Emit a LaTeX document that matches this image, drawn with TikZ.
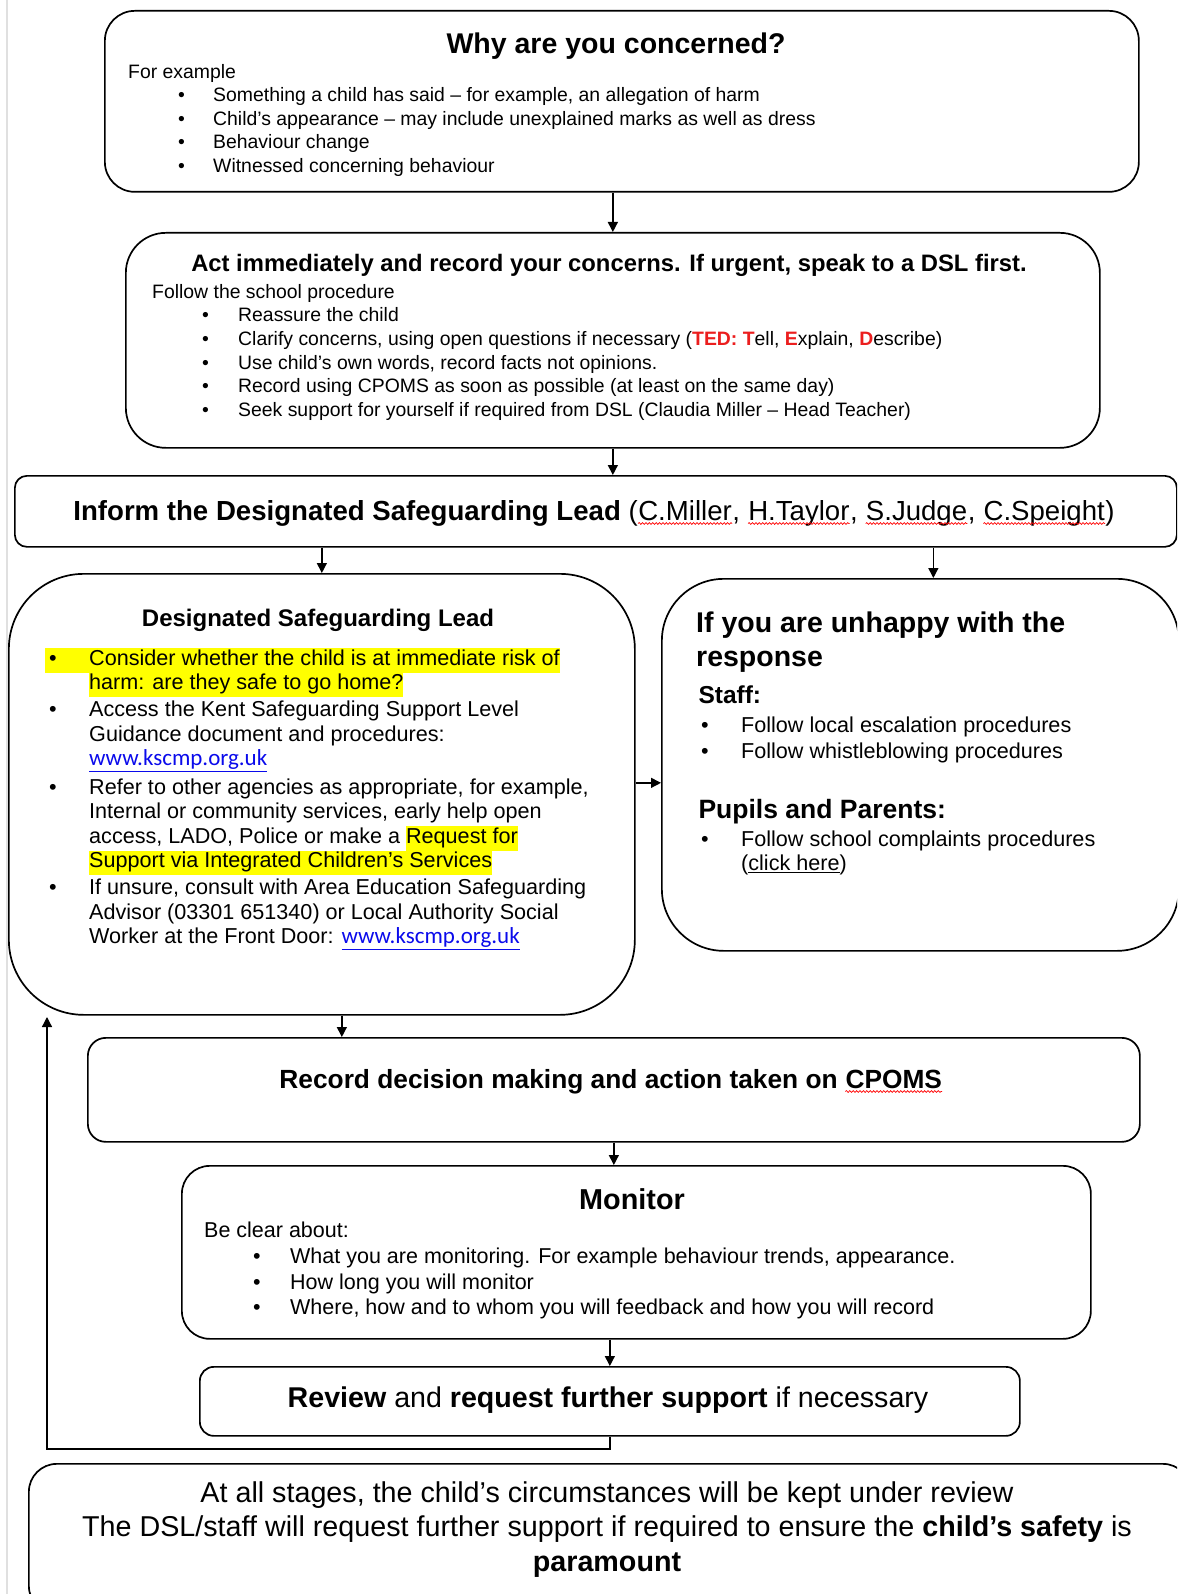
\documentclass[tikz,border=0pt]{standalone}
\usepackage{fontspec}
\setmainfont{Liberation Sans}
\newfontfamily\linkfont{Carlito}
\usetikzlibrary{arrows.meta,decorations.pathmorphing}

\definecolor{hlyellow}{RGB}{255,255,0}
\definecolor{tedred}{RGB}{235,30,30}
\definecolor{linkblue}{RGB}{10,10,235}

\newcommand{\spellerr}[1]{\tikz[baseline=(sw.base)]{\node[inner sep=0pt] (sw) {#1};
  \draw[red, line width=0.7pt, decorate, decoration={snake, amplitude=0.9pt, segment length=3.4pt}]
    ([yshift=-3.5pt]sw.base west) -- ([yshift=-3.5pt]sw.base east);}}
\newcommand{\bul}[1][35pt]{\makebox[#1][l]{\textbullet}}
\newcommand{\hl}[1]{{\setlength{\fboxsep}{0pt}\colorbox{hlyellow}{\strut#1}}}
\newcommand{\weblink}[1]{{\linkfont\color{linkblue}\underline{#1}}}
\newcommand{\ted}[1]{\textcolor{tedred}{\textbf{#1}}}

\tikzset{
  flowbox/.style={draw, line width=1.7pt, inner sep=0pt, anchor=north west},
  txt/.style={inner sep=0pt, anchor=north west, align=left},
  arr/.style={line width=1.3pt, -{Triangle[length=10pt,width=10pt]}},
  pageedge/.style={draw=black!12, line width=1.5pt},
}

\begin{document}
\begin{tikzpicture}[x=1pt,y=-1pt]
\useasboundingbox (0,0) rectangle (1177,1594);
\clip (0,0) rectangle (1177,1594);

% page edge
\draw[pageedge] (7,0) -- (7,1594);

% Why are you concerned?
\node[flowbox, rounded corners=30pt, minimum width=1034pt, minimum height=181pt] (why) at (104,10) {};
\node[anchor=base, font=\bfseries\fontsize{28.5}{33}\selectfont] (whytitle) at (616,54) {Why are you concerned?};
\node[txt, font=\fontsize{19.4}{23.5}\selectfont] (whylist) at (128,61.5) {\strut For example\\
  \hspace*{50pt}\bul Something a child has said \textendash\ for example, an allegation of harm\\
  \hspace*{50pt}\bul Child’s appearance \textendash\ may include unexplained marks as well as dress\\
  \hspace*{50pt}\bul Behaviour change\\
  \hspace*{50pt}\bul Witnessed concerning behaviour};

% Act immediately
\node[flowbox, rounded corners=40pt, minimum width=974pt, minimum height=215pt] (act) at (125,232) {};
\node[anchor=base, font=\bfseries\fontsize{23.8}{28}\selectfont] (acttitle) at (609,272) {Act immediately and record your concerns. If urgent, speak to a DSL first.};
\node[txt, font=\fontsize{19.4}{23.6}\selectfont] (actlist) at (152,281.5) {\strut Follow the school procedure\\
  \hspace*{50pt}\bul[36pt]Reassure the child\\
  \hspace*{50pt}\bul[36pt]Clarify concerns, using open questions if necessary (\ted{TED:} \ted{T}ell, \ted{E}xplain, \ted{D}escribe)\\
  \hspace*{50pt}\bul[36pt]Use child’s own words, record facts not opinions.\\
  \hspace*{50pt}\bul[36pt]Record using CPOMS as soon as possible (at least on the same day)\\
  \hspace*{50pt}\bul[36pt]Seek support for yourself if required from DSL (Claudia Miller \textendash\ Head Teacher)};

% Inform the DSL
\node[flowbox, rounded corners=12pt, minimum width=1162pt, minimum height=71pt] (inform) at (14,475) {};
\node[anchor=base, font=\fontsize{27.6}{32}\selectfont] (informtext) at (594,520) {\textbf{Inform the Designated Safeguarding Lead} (\spellerr{C.Miller}, \spellerr{H.Taylor}, \spellerr{S.Judge}, \spellerr{C.Speight})};

% Designated Safeguarding Lead
\node[flowbox, rounded corners=75pt, minimum width=626pt, minimum height=441pt] (dsl) at (8,573) {};
\node[anchor=base, font=\bfseries\fontsize{24}{29}\selectfont] (dsltitle) at (318,626) {Designated Safeguarding Lead};
\node[txt, font=\fontsize{21.6}{24.5}\selectfont] (dsllist) at (45,647.9) {\hl{\hspace*{4pt}\bul[40pt]Consider whether the child is at immediate risk of}\\
  \hspace*{44pt}\hl{harm: are they safe to go home?}\\[2.6pt]
  \hspace*{4pt}\bul[40pt]Access the Kent Safeguarding Support Level\\
  \hspace*{44pt}Guidance document and procedures:\\
  \hspace*{44pt}\weblink{\fontsize{23}{24.5}\selectfont www.kscmp.org.uk}\\[4pt]
  \hspace*{4pt}\bul[40pt]Refer to other agencies as appropriate, for example,\\
  \hspace*{44pt}Internal or community services, early help open\\
  \hspace*{44pt}access, LADO, Police or make a \hl{Request for}\\
  \hspace*{44pt}\hl{Support via Integrated Children’s Services}\\[2.6pt]
  \hspace*{4pt}\bul[40pt]If unsure, consult with Area Education Safeguarding\\
  \hspace*{44pt}Advisor (03301 651340) or Local Authority Social\\
  \hspace*{44pt}Worker at the Front Door: \weblink{\fontsize{23}{24.5}\selectfont www.kscmp.org.uk}};

% Unhappy with the response
\node[flowbox, rounded corners=62pt, minimum width=517pt, minimum height=372pt] (unhappy) at (661,578) {};
\node[txt, font=\bfseries\fontsize{28.5}{34}\selectfont] (unhappytitle) at (696,608.2) {\strut If you are unhappy with the\\response};
\node[anchor=base west, font=\bfseries\fontsize{24.5}{29}\selectfont] (staff) at (695,703) {Staff:};
\node[txt, font=\fontsize{21.6}{26}\selectfont] (stafflist) at (701,713.8) {\strut\bul[40pt]Follow local escalation procedures\\
  \bul[40pt]Follow whistleblowing procedures};
\node[anchor=base west, font=\bfseries\fontsize{26.5}{31}\selectfont] (pupils) at (695,818) {Pupils and Parents:};
\node[txt, font=\fontsize{21.6}{24}\selectfont] (pupilslist) at (701,829.2) {\strut\bul[40pt]Follow school complaints procedures\\
  \hspace*{40pt}(\underline{click here})};

% Record decision making
\node[flowbox, rounded corners=18pt, minimum width=1052pt, minimum height=104pt] (record) at (87,1037) {};
\node[anchor=base, font=\bfseries\fontsize{26.3}{31}\selectfont] (recordtext) at (611,1088) {Record decision making and action taken on \spellerr{CPOMS}};

% Monitor
\node[flowbox, rounded corners=28pt, minimum width=909pt, minimum height=173pt] (monitor) at (181,1165) {};
\node[anchor=base, font=\bfseries\fontsize{28.8}{33}\selectfont] (monitortitle) at (632,1209) {Monitor};
\node[txt, font=\fontsize{21.5}{25.9}\selectfont] (monitorlist) at (204,1218.9) {\strut Be clear about:\\
  \hspace*{49pt}\bul[37pt]What you are monitoring. For example behaviour trends, appearance.\\
  \hspace*{49pt}\bul[37pt]How long you will monitor\\
  \hspace*{49pt}\bul[37pt]Where, how and to whom you will feedback and how you will record};

% Review
\node[flowbox, rounded corners=14pt, minimum width=820pt, minimum height=69pt] (review) at (199,1366) {};
\node[anchor=base, font=\fontsize{28.6}{33}\selectfont] (reviewtext) at (608,1407) {\textbf{Review} and \textbf{request further support} if necessary};

% At all stages
\node[flowbox, rounded corners=28pt, minimum width=1162pt, minimum height=150pt] (stages) at (28,1463) {};
\node[anchor=north, align=center, inner sep=0pt, font=\fontsize{28.7}{34.5}\selectfont] (stagestext) at (607,1477.9) {\strut At all stages, the child’s circumstances will be kept under review\\
  The DSL/staff will request further support if required to ensure the \textbf{child’s safety} is\\
  \textbf{paramount}};

% connectors
\draw[arr] (act.north |- why.south) -- (act.north);
\draw[arr] (act.south) -- (act.south |- inform.north);
\draw[arr] (dsl.north |- inform.south) -- (dsl.north);
\draw[arr] ([xshift=13pt]unhappy.north |- inform.south) -- ([xshift=13pt]unhappy.north);
\draw[arr] ([yshift=11.5pt]dsl.east) -- ([yshift=11.5pt]dsl.east -| unhappy.west);
\draw[arr] ([xshift=20pt]dsl.south) -- ([xshift=20pt]dsl.south |- record.north);
\draw[arr] (record.south) -- (record.south |- monitor.north);
\draw[arr] (review.north |- monitor.south) -- (review.north);

% back to the DSL
\coordinate (loopcorner) at (47,1449);
\coordinate (loopend) at (47,1017);
\draw[arr] (review.south) |- (loopcorner) -- (loopend);

\end{tikzpicture}
\end{document}
